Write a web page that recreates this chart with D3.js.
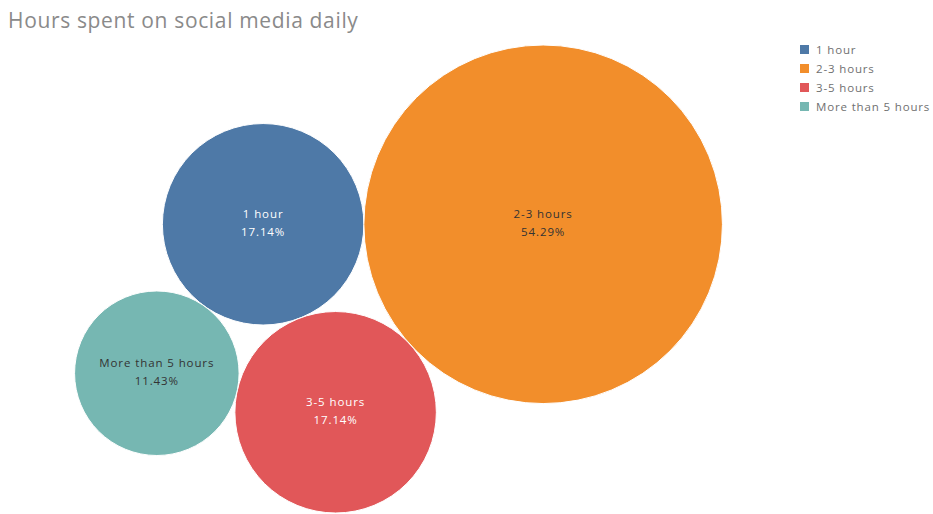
<!DOCTYPE html>
<html>
<head>
<meta charset="utf-8">
<script src="https://cdn.jsdelivr.net/npm/d3@7"></script>
<style>
  html, body { margin: 0; padding: 0; background: #ffffff; }
  svg { display: block; }
</style>
</head>
<body>
<svg id="chart" width="933" height="514"></svg>
<script>
// Share of respondents by hours spent on social media each day
const categories = ["1 hour", "2-3 hours", "3-5 hours", "More than 5 hours"];
const percents = [17.14, 54.29, 17.14, 11.43];
const colors = ["#4e79a7", "#f28e2b", "#e15759", "#76b7b2"];
const labelColors = ["#ffffff", "#333333", "#ffffff", "#333333"];
// Order in which the bubbles are packed against each other
const packOrder = ["1 hour", "3-5 hours", "2-3 hours", "More than 5 hours"];
const title = "Hours spent on social media daily";

const W = 933, H = 514;
const plot = { left: 0, right: 797, top: 45, bottom: 513 };
const svg = d3.select("#chart");
const font = "'Open Sans', Lato, sans-serif";

svg.append("text")
  .attr("x", 8).attr("y", 28)
  .attr("font-family", font)
  .attr("font-size", 21)
  .attr("letter-spacing", 0.65)
  .attr("fill", "#8a8a8a")
  .text(title);

// Bubble area proportional to the share
const rRaw = d3.scaleSqrt().domain([0, d3.max(percents)]).range([0, 1]);
const nodes = packOrder.map(name => {
  const i = categories.indexOf(name);
  return { name, value: percents[i], color: colors[i], labelColor: labelColors[i], r: rRaw(percents[i]) };
});
d3.packSiblings(nodes);

// Orient the pack: largest bubble to the right of "1 hour", "3-5 hours" underneath
const byName = Object.fromEntries(nodes.map(n => [n.name, n]));
const big = byName["2-3 hours"], one = byName["1 hour"], three = byName["3-5 hours"];
const ang = Math.atan2(one.y - big.y, one.x - big.x);
const rot = Math.PI - ang;
nodes.forEach(n => {
  const x = n.x * Math.cos(rot) - n.y * Math.sin(rot);
  const y = n.x * Math.sin(rot) + n.y * Math.cos(rot);
  n.x = x; n.y = y;
});
if (three.y < big.y) nodes.forEach(n => { n.y = -n.y; });

// Fit the pack into the plot area
const x0 = d3.min(nodes, n => n.x - n.r), x1 = d3.max(nodes, n => n.x + n.r);
const y0 = d3.min(nodes, n => n.y - n.r), y1 = d3.max(nodes, n => n.y + n.r);
const k = Math.min((plot.bottom - plot.top) / (y1 - y0), (plot.right - plot.left) / (x1 - x0));
const cxMid = (plot.left + plot.right) / 2;
const xs = d3.scaleLinear().domain([(x0 + x1) / 2, (x0 + x1) / 2 + 1]).range([cxMid, cxMid + k]);
const ys = d3.scaleLinear().domain([y0, y0 + 1]).range([plot.top, plot.top + k]);

const g = svg.append("g");
const bubble = g.selectAll("g.bubble").data(nodes).join("g")
  .attr("class", "bubble")
  .attr("transform", d => `translate(${xs(d.x)},${ys(d.y)})`);

bubble.append("circle")
  .attr("r", d => d.r * k)
  .attr("fill", d => d.color)
  .attr("stroke", "#ffffff")
  .attr("stroke-width", 1);

bubble.append("text")
  .attr("text-anchor", "middle")
  .attr("font-family", font)
  .attr("font-size", 11.5)
  .attr("letter-spacing", 0.9)
  .attr("fill", d => d.labelColor)
  .selectAll("tspan")
  .data(d => [d.name, d3.format(".2f")(d.value) + "%"])
  .join("tspan")
  .attr("x", 0)
  .attr("y", (t, i) => i === 0 ? -6 : 12)
  .text(t => t);

// Legend
const legend = svg.append("g").attr("transform", "translate(800,45)");
const li = legend.selectAll("g").data(categories).join("g")
  .attr("transform", (d, i) => `translate(0,${i * 19})`);
li.append("rect").attr("width", 9).attr("height", 9)
  .attr("fill", (d, i) => colors[i]);
li.append("text").attr("x", 16).attr("y", 8.5)
  .attr("font-family", font).attr("font-size", 11.5)
  .attr("letter-spacing", 0.85)
  .attr("fill", "#707070")
  .text(d => d);
</script>
</body>
</html>
